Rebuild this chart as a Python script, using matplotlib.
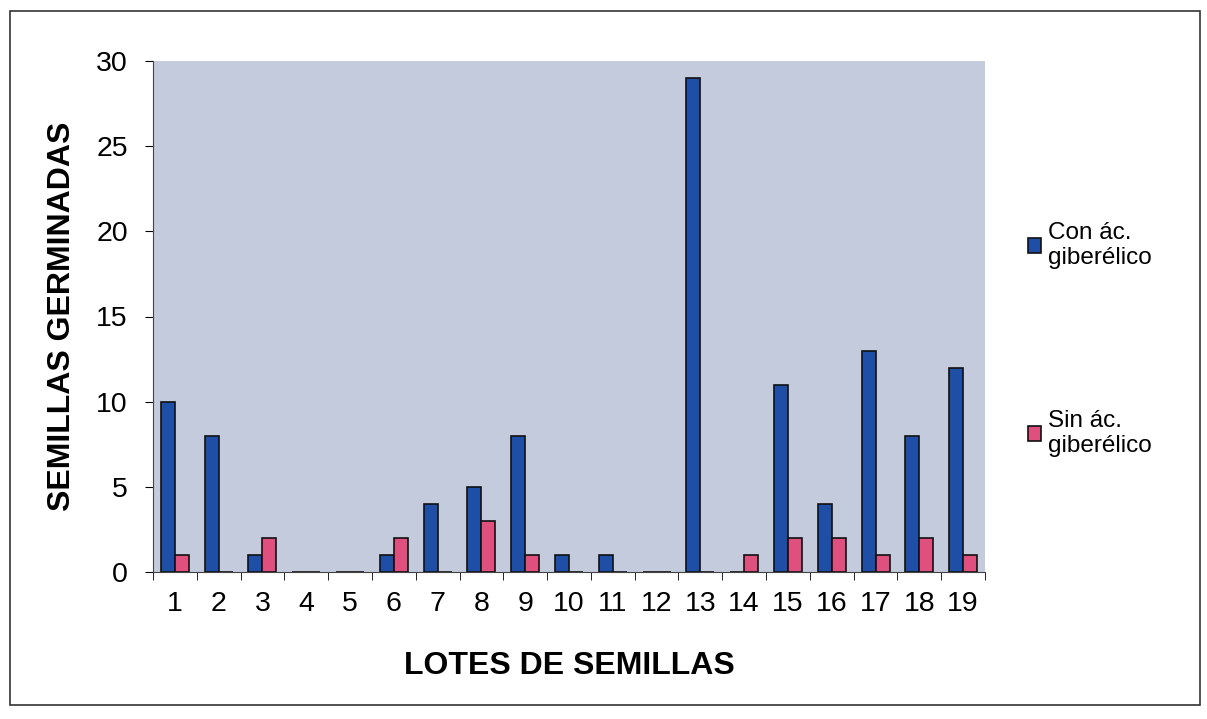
import numpy as np
import matplotlib
matplotlib.use("Agg")
import matplotlib.pyplot as plt
from matplotlib.patches import Rectangle

lotes = [str(i) for i in range(1, 20)]
con_acido = [10, 8, 1, 0, 0, 1, 4, 5, 8, 1, 1, 0, 29, 0, 11, 4, 13, 8, 12]
sin_acido = [1, 0, 2, 0, 0, 2, 0, 3, 1, 0, 0, 0, 0, 1, 2, 2, 1, 2, 1]

plt.rcParams['font.family'] = ['Liberation Sans', 'DejaVu Sans']

fig = plt.figure(figsize=(12.07, 7.19), dpi=100)
fig.patch.set_facecolor('white')
fig.add_artist(Rectangle((0.008, 0.02), 0.986, 0.965, transform=fig.transFigure,
                         fill=False, edgecolor='#333333', linewidth=1.2))

ax = fig.add_axes([153/1207, 1 - 572/719, (985-153)/1207, (572-61)/719])
ax.set_facecolor('#c3cbdd')

x = np.arange(len(lotes))
w = 0.32
ax.bar(x - w/2, con_acido, w, color='#1f4ea6', edgecolor='#111111', linewidth=1.2,
       label='Con ác.\ngiberélico')
ax.bar(x + w/2, sin_acido, w, color='#e0507e', edgecolor='#111111', linewidth=1.2,
       label='Sin ác.\ngiberélico')

ax.set_xlim(-0.5, len(lotes) - 0.5)
ax.set_ylim(0, 30)
ax.set_yticks(range(0, 31, 5))
ax.set_xticks(x)
ax.set_xticklabels(lotes)
ax.set_xticks(np.arange(-0.5, len(lotes), 1), minor=True)
ax.tick_params(axis='x', which='major', length=0, labelsize=20.5, pad=14)
ax.tick_params(axis='x', which='minor', length=6, direction='out')
ax.tick_params(axis='y', labelsize=20.5, length=6, direction='out', pad=12)

for s in ['top', 'right']:
    ax.spines[s].set_visible(False)
ax.spines['left'].set_color('#444444')
ax.spines['bottom'].set_color('#444444')

ax.set_xlabel('LOTES DE SEMILLAS', fontsize=23, fontweight='bold', labelpad=24)
ax.set_ylabel('SEMILLAS GERMINADAS', fontsize=23, fontweight='bold', labelpad=14)

leg = ax.legend(loc='center left', bbox_to_anchor=(1.025, 0.455), frameon=False,
                fontsize=17.5, handlelength=0.55, handleheight=0.55, handletextpad=0.3,
                labelspacing=5.8)

fig.savefig('out.png', dpi=100)
